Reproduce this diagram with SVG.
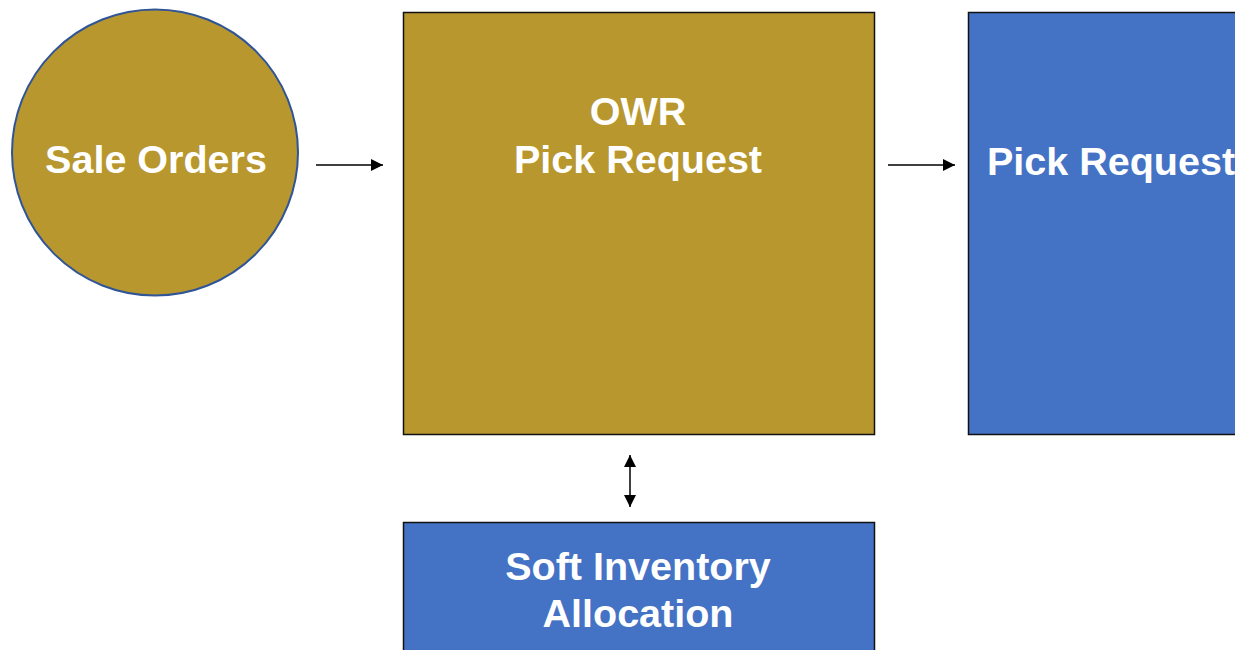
<svg xmlns="http://www.w3.org/2000/svg" width="1235" height="650" viewBox="0 0 1235 650">
<style>
.gold{fill:#B8972F}
.blue{fill:#4472C4}
.box{stroke:#111;stroke-width:1.5}
.lbl{font-family:"Liberation Sans",Arial,sans-serif;font-weight:bold;font-size:39.5px;fill:#fff}
.c{text-anchor:middle}
.conn{stroke:#000;stroke-width:1.5;fill:none}
</style>
<defs>
<marker id="ah2" viewBox="0 0 10 10" refX="10" refY="5" markerWidth="12" markerHeight="12" markerUnits="userSpaceOnUse" orient="auto-start-reverse">
<path d="M0,0 L10,5 L0,10 z" fill="#000"/>
</marker>
</defs>
<rect width="1235" height="650" fill="#fff"/>
<g id="sale-orders">
<circle cx="155" cy="152.5" r="143" class="gold" stroke="#2F5597" stroke-width="2"/>
<text x="156" y="173" class="lbl c">Sale Orders</text>
</g>
<g id="owr-pick-request">
<rect x="403.5" y="12.5" width="471" height="422" class="gold box"/>
<text x="638" y="125" class="lbl c">OWR</text>
<text x="638" y="173" class="lbl c">Pick Request</text>
</g>
<g id="pick-request">
<rect x="968.5" y="12.5" width="300" height="422" class="blue box"/>
<text x="987" y="175" class="lbl">Pick Request</text>
</g>
<g id="soft-inventory">
<rect x="403.5" y="522.5" width="471" height="160" class="blue box"/>
<text x="638" y="580" class="lbl c">Soft Inventory</text>
<text x="638" y="627" class="lbl c">Allocation</text>
</g>
<g id="connectors">
<line x1="316" y1="165" x2="383" y2="165" class="conn" marker-end="url(#ah2)"/>
<line x1="888" y1="165" x2="955" y2="165" class="conn" marker-end="url(#ah2)"/>
<line x1="630" y1="455" x2="630" y2="507" class="conn" marker-start="url(#ah2)" marker-end="url(#ah2)"/>
</g>
</svg>
